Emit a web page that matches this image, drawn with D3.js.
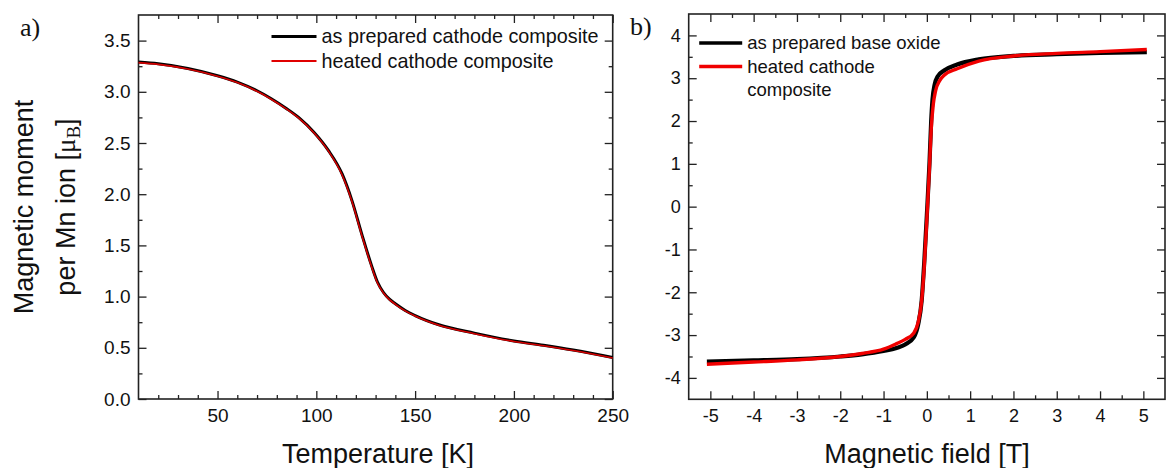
<!DOCTYPE html>
<html>
<head>
<meta charset="utf-8">
<script src="https://cdn.jsdelivr.net/npm/d3@7"></script>
<style>
  html, body { margin: 0; padding: 0; background: #fff; }
  svg { display: block; font-family: "Liberation Sans", Arial, sans-serif; }
</style>
</head>
<body>
<div id="chart"></div>
<script>
// panel a) magnetisation vs temperature
const tempK = [10, 20, 35, 50, 60, 70, 77, 85, 91, 99, 106, 113, 118, 123, 128, 131, 134, 137, 140, 145, 150, 162, 180, 200, 215, 230, 250];
const momentPrepared = [3.29, 3.273, 3.228, 3.157, 3.095, 3.01, 2.935, 2.835, 2.75, 2.6, 2.43, 2.2, 1.94, 1.61, 1.3, 1.14, 1.04, 0.975, 0.93, 0.865, 0.815, 0.725, 0.643, 0.567, 0.525, 0.478, 0.405];
const momentHeated = [3.285, 3.268, 3.223, 3.152, 3.09, 3.005, 2.93, 2.83, 2.745, 2.595, 2.425, 2.19, 1.93, 1.6, 1.29, 1.13, 1.035, 0.97, 0.925, 0.86, 0.81, 0.72, 0.638, 0.562, 0.52, 0.473, 0.4];
const tempTicks = [50, 100, 150, 200, 250];
const tempMinorTicks = [20, 30, 40, 60, 70, 80, 90, 110, 120, 130, 140, 160, 170, 180, 190, 210, 220, 230, 240];
const momentTicks = [0, 0.5, 1.0, 1.5, 2.0, 2.5, 3.0, 3.5];
const momentMinorTicks = [0.25, 0.75, 1.25, 1.75, 2.25, 2.75, 3.25];

// panel b) magnetisation vs field
const fieldPrepared = [-5.08, -4, -3, -2, -1.5, -1, -0.7, -0.5, -0.3, -0.2, -0.12, -0.06, 0, 0.06, 0.1, 0.13, 0.18, 0.25, 0.4, 0.7, 1.2, 2, 3, 4, 5.08];
const hysPrepared = [-3.62, -3.59, -3.56, -3.5, -3.45, -3.37, -3.3, -3.22, -3.05, -2.75, -2.2, -1.3, -0.2, 1.0, 2.0, 2.5, 2.85, 3.04, 3.18, 3.32, 3.44, 3.52, 3.56, 3.59, 3.61];
const fieldHeated = [-5.08, -4, -3, -2, -1.5, -1, -0.7, -0.5, -0.3, -0.2, -0.12, -0.06, 0, 0.06, 0.1, 0.15, 0.2, 0.3, 0.4, 0.7, 1.2, 2, 3, 4, 5.08];
const hysHeated = [-3.68, -3.63, -3.58, -3.5, -3.43, -3.33, -3.2, -3.1, -2.95, -2.7, -2.2, -1.4, -0.3, 0.9, 1.8, 2.4, 2.7, 2.95, 3.07, 3.22, 3.4, 3.52, 3.58, 3.62, 3.67];
const fieldTicks = [-5, -4, -3, -2, -1, 0, 1, 2, 3, 4, 5];
const fieldMinorTicks = [-4.5, -3.5, -2.5, -1.5, -0.5, 0.5, 1.5, 2.5, 3.5, 4.5];
const hysTicks = [-4, -3, -2, -1, 0, 1, 2, 3, 4];
const hysMinorTicks = [-3.5, -2.5, -1.5, -0.5, 0.5, 1.5, 2.5, 3.5];

const width = 1167;
const height = 468;
const axisColor = "#222";

// plain hyphen for negatives, like the original
const plainInt = function(d) { return String(d); };

const svg = d3.select("#chart")
  .append("svg")
  .attr("width", width)
  .attr("height", height)
  .attr("viewBox", [0, 0, width, height]);

function drawFrame(g, x, y, opts) {
  const w = x.range()[1] - x.range()[0];
  const h = y.range()[0] - y.range()[1];
  const fs = opts.fontSize;

  function styleAxis(sel) {
    sel.select(".domain").remove();
    sel.selectAll("line").attr("stroke", axisColor).attr("stroke-width", 1.3);
    sel.selectAll("text").attr("font-size", fs).attr("fill", "#111")
      .attr("font-family", "Liberation Sans, Arial, sans-serif");
  }

  g.append("g").attr("transform", "translate(0," + h + ")")
    .call(d3.axisBottom(x).tickValues(opts.xTicks).tickSize(-8).tickPadding(10).tickFormat(opts.xFormat))
    .call(styleAxis);
  g.append("g").attr("transform", "translate(0," + h + ")")
    .call(d3.axisBottom(x).tickValues(opts.xMinor).tickSize(-4).tickFormat(""))
    .call(styleAxis);
  g.append("g")
    .call(d3.axisTop(x).tickValues(opts.xTicks).tickSize(-8).tickFormat(""))
    .call(styleAxis);
  g.append("g")
    .call(d3.axisTop(x).tickValues(opts.xMinor).tickSize(-4).tickFormat(""))
    .call(styleAxis);

  g.append("g")
    .call(d3.axisLeft(y).tickValues(opts.yTicks).tickSize(-8).tickPadding(8).tickFormat(opts.yFormat))
    .call(styleAxis);
  g.append("g")
    .call(d3.axisLeft(y).tickValues(opts.yMinor).tickSize(-4).tickFormat(""))
    .call(styleAxis);
  g.append("g").attr("transform", "translate(" + w + ",0)")
    .call(d3.axisRight(y).tickValues(opts.yTicks).tickSize(-8).tickFormat(""))
    .call(styleAxis);
  g.append("g").attr("transform", "translate(" + w + ",0)")
    .call(d3.axisRight(y).tickValues(opts.yMinor).tickSize(-4).tickFormat(""))
    .call(styleAxis);

  g.append("rect")
    .attr("width", w)
    .attr("height", h)
    .attr("fill", "none")
    .attr("stroke", axisColor)
    .attr("stroke-width", 1.6);
}

function drawSeries(g, x, y, xs, ys, color, lw) {
  const pts = xs.map(function(d, i) { return [d, ys[i]]; });
  g.append("path")
    .datum(pts)
    .attr("fill", "none")
    .attr("stroke", color)
    .attr("stroke-width", lw)
    .attr("stroke-linejoin", "round")
    .attr("stroke-linecap", "butt")
    .attr("d", d3.line()
      .x(function(d) { return x(d[0]); })
      .y(function(d) { return y(d[1]); })
      .curve(d3.curveMonotoneX));
}

function drawLegend(g, x0, y0, items, fs, gap) {
  items.forEach(function(item, i) {
    const yy = y0 + i * gap;
    if (item.color) {
      g.append("line")
        .attr("x1", x0).attr("x2", x0 + item.len)
        .attr("y1", yy).attr("y2", yy)
        .attr("stroke", item.color)
        .attr("stroke-width", item.lw);
    }
    g.append("text")
      .attr("x", x0 + item.len + 5)
      .attr("y", yy)
      .attr("dy", "0.35em")
      .attr("font-size", fs)
      .attr("fill", "#111")
      .text(item.label);
  });
}

// ---------- panel a ----------
const xa = d3.scaleLinear().domain([10, 250]).range([0, 474.2]);
const ya = d3.scaleLinear().domain([0, 3.75]).range([384, 0]);
const ga = svg.append("g").attr("transform", "translate(138.5,15)");

drawFrame(ga, xa, ya, {
  fontSize: 19,
  xTicks: tempTicks, xMinor: tempMinorTicks, xFormat: plainInt,
  yTicks: momentTicks, yMinor: momentMinorTicks, yFormat: d3.format(".1f")
});
drawSeries(ga, xa, ya, tempK, momentPrepared, "#000", 3);
drawSeries(ga, xa, ya, tempK, momentHeated, "#d40000", 1.6);

drawLegend(ga, 133, 21.5, [
  { label: "as prepared cathode composite", color: "#000", lw: 3.2, len: 45 },
  { label: "heated cathode composite", color: "#e00000", lw: 1.8, len: 45 }
], 19.8, 24.5);

svg.append("text")
  .attr("x", 378)
  .attr("y", 463)
  .attr("text-anchor", "middle")
  .attr("font-size", 27)
  .attr("fill", "#111")
  .text("Temperature [K]");

const yTitle = svg.append("text")
  .attr("transform", "translate(0,207) rotate(-90)")
  .attr("text-anchor", "middle")
  .attr("font-size", 27)
  .attr("fill", "#111");
yTitle.append("tspan").attr("x", 0).attr("y", 33).text("Magnetic moment");
const line2 = yTitle.append("tspan").attr("x", 0).attr("y", 75);
line2.append("tspan").text("per Mn ion [");
line2.append("tspan").attr("font-family", "Liberation Serif, serif").text("\u03bc");
line2.append("tspan").attr("font-family", "Liberation Serif, serif").attr("font-size", 19).attr("dy", 5).text("B");
line2.append("tspan").attr("dy", -5).text("]");

svg.append("text")
  .attr("x", 20)
  .attr("y", 36)
  .attr("font-family", "Liberation Serif, serif")
  .attr("font-size", 26)
  .attr("fill", "#111")
  .text("a)");

// ---------- panel b ----------
const xb = d3.scaleLinear().domain([-5.5, 5.5]).range([0, 476.3]);
const yb = d3.scaleLinear().domain([-4.5, 4.5]).range([385.3, 0]);
const gb = svg.append("g").attr("transform", "translate(688.7,14)");

drawFrame(gb, xb, yb, {
  fontSize: 18,
  xTicks: fieldTicks, xMinor: fieldMinorTicks, xFormat: plainInt,
  yTicks: hysTicks, yMinor: hysMinorTicks, yFormat: plainInt
});
drawSeries(gb, xb, yb, fieldPrepared, hysPrepared, "#000", 4.2);
drawSeries(gb, xb, yb, fieldHeated, hysHeated, "#f00000", 3.4);

drawLegend(gb, 10.5, 29, [
  { label: "as prepared base oxide", color: "#000", lw: 3.5, len: 43 },
  { label: "heated cathode", color: "#f00000", lw: 3.5, len: 43 },
  { label: "composite", color: null, len: 43 }
], 18.5, 23.5);

svg.append("text")
  .attr("x", 927)
  .attr("y", 463)
  .attr("text-anchor", "middle")
  .attr("font-size", 27)
  .attr("fill", "#111")
  .text("Magnetic field [T]");

svg.append("text")
  .attr("x", 630)
  .attr("y", 35)
  .attr("font-family", "Liberation Serif, serif")
  .attr("font-size", 26)
  .attr("fill", "#111")
  .text("b)");
</script>
</body>
</html>
